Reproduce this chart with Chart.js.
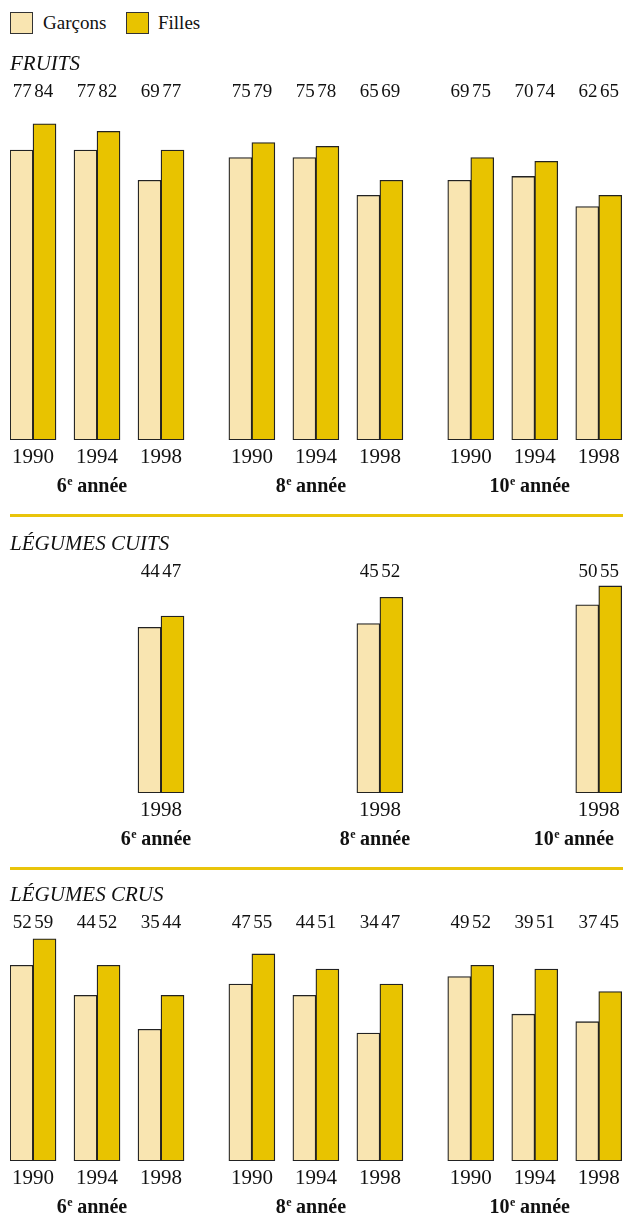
<!DOCTYPE html>
<html lang="fr">
<head>
<meta charset="utf-8">
<title>Fruits et légumes</title>
<script src="https://cdn.jsdelivr.net/npm/chart.js@4.4.1/dist/chart.umd.min.js"></script>
<style>
  html, body { margin: 0; padding: 0; background: #fff; }
  body { position: relative; width: 623px; height: 1230px; overflow: hidden;
         font-family: "Liberation Serif", "Times New Roman", serif; color: #111; }
  .key { position: absolute; top: 12px; width: 23px; height: 22px; box-sizing: border-box;
         border: 1px solid #333; }
  .key-label { position: absolute; top: 12px; line-height: 22px; font-size: 19px; }
  .panel { position: absolute; left: 0; }
  .rule { position: absolute; left: 10px; width: 613px; height: 3px; background: #e9c40a; }
</style>
</head>
<body>

<span class="key" style="left:10px; background:#f9e5b1"></span>
<span class="key-label" style="left:43px">Garçons</span>
<span class="key" style="left:126px; background:#e8c300"></span>
<span class="key-label" style="left:158px">Filles</span>

<canvas id="fruits" class="panel" width="623" height="456" style="top:49px"></canvas>
<div class="rule" style="top:514px"></div>
<canvas id="cuits" class="panel" width="623" height="329" style="top:529px"></canvas>
<div class="rule" style="top:867px"></div>
<canvas id="crus" class="panel" width="623" height="346" style="top:880px"></canvas>

<script>
const years = ["1990", "1994", "1998"];
const grades = ["6", "8", "10"];

// % par année d'étude (6e, 8e, 10e) puis par année d'enquête
const fruitsGarcons = [77, 77, 69, 75, 75, 65, 69, 70, 62];
const fruitsFilles  = [84, 82, 77, 79, 78, 69, 75, 74, 65];

const cuitsYears   = ["1998"];
const cuitsGarcons = [44, 45, 50];
const cuitsFilles  = [47, 52, 55];

const crusGarcons = [52, 44, 35, 47, 44, 34, 49, 39, 37];
const crusFilles  = [59, 52, 44, 55, 51, 47, 52, 51, 45];

const GARCONS_COLOR = "#f9e5b1";
const FILLES_COLOR = "#e8c300";
const GROUP_STEP = 3.42;       // écart entre deux années d'étude, en largeurs de paire
const PX_PER_UNIT = 3.765;     // même échelle verticale pour les trois panneaux
const TOP_BLOCK = 3 + 21 * 1.2 + 26;
const BOTTOM_PAD = 65;
const SERIF = "'Liberation Serif', 'Times New Roman', serif";

function drawGrade(ctx, num, x, y, maxRight) {
  const big = "bold 20px " + SERIF;
  const small = "bold 12px " + SERIF;
  ctx.font = big;
  const w1 = ctx.measureText(num).width;
  const w3 = ctx.measureText(" année").width;
  ctx.font = small;
  const w2 = ctx.measureText("e").width;
  const total = w1 + w2 + w3;
  const left = Math.min(x - total / 2, maxRight - total);
  ctx.textAlign = "left";
  ctx.font = big;
  ctx.fillText(num, left, y);
  ctx.font = small;
  ctx.fillText("e", left + w1 + 0.5, y - 5);
  ctx.font = big;
  ctx.fillText(" année", left + w1 + w2, y);
}

const panelLabels = {
  id: "panelLabels",
  afterDatasetsDraw(chart) {
    const { ctx, chartArea, scales } = chart;
    const base = scales.y.getPixelForValue(0);
    const m0 = chart.getDatasetMeta(0);
    const m1 = chart.getDatasetMeta(1);
    const d0 = chart.data.datasets[0].data;
    const d1 = chart.data.datasets[1].data;
    ctx.save();
    ctx.fillStyle = "#111";
    ctx.textBaseline = "middle";
    ctx.textAlign = "center";

    // valeurs au-dessus de chaque paire de barres
    ctx.font = "19px " + SERIF;
    m0.data.forEach((bar, i) => {
      ctx.fillText(String(d0[i].y), bar.x + 0.75, chartArea.top - 11);
      ctx.fillText(String(d1[i].y), m1.data[i].x - 0.75, chartArea.top - 11);
    });

    // années sous les paires
    ctx.font = "21px " + SERIF;
    d0.forEach((p) => {
      ctx.fillText(p.year, scales.x.getPixelForValue(p.x), base + 17);
    });

    // année d'étude sous chaque groupe
    grades.forEach((g) => {
      const xs = d0.filter((p) => p.grade === g).map((p) => scales.x.getPixelForValue(p.x));
      const cx = xs.reduce((a, b) => a + b, 0) / xs.length;
      drawGrade(ctx, g, cx - 5, base + 47, chartArea.right - 9);
    });
    ctx.restore();
  }
};

function points(values, panelYears) {
  return values.map((v, k) => {
    const gi = Math.floor(k / panelYears.length);
    const year = panelYears[k % panelYears.length];
    return { x: gi * GROUP_STEP + years.indexOf(year), y: v, year: year, grade: grades[gi] };
  });
}

function makePanel(id, title, panelYears, garcons, filles) {
  const canvas = document.getElementById(id);
  const yMax = (canvas.height - TOP_BLOCK - BOTTOM_PAD) / PX_PER_UNIT;
  const barStyle = { barThickness: 23, borderWidth: 1.3, borderColor: "#222", borderSkipped: false };
  return new Chart(canvas.getContext("2d"), {
    type: "bar",
    data: {
      datasets: [
        Object.assign({ label: "Garçons", data: points(garcons, panelYears), backgroundColor: GARCONS_COLOR }, barStyle),
        Object.assign({ label: "Filles", data: points(filles, panelYears), backgroundColor: FILLES_COLOR }, barStyle)
      ]
    },
    options: {
      responsive: false,
      animation: false,
      layout: { padding: { left: 10, right: 0, top: 0, bottom: BOTTOM_PAD } },
      scales: {
        x: { type: "linear", display: false, offset: false, min: -23 / 64, max: -23 / 64 + 613 / 64 },
        y: { display: false, min: 0, max: yMax }
      },
      plugins: {
        legend: { display: false },
        tooltip: { enabled: false },
        title: {
          display: true,
          text: title,
          align: "start",
          color: "#111",
          font: { family: SERIF, size: 21, style: "italic", weight: "normal" },
          padding: { top: 3, bottom: 26 }
        }
      }
    },
    plugins: [panelLabels]
  });
}

makePanel("fruits", "FRUITS", years, fruitsGarcons, fruitsFilles);
makePanel("cuits", "LÉGUMES CUITS", cuitsYears, cuitsGarcons, cuitsFilles);
makePanel("crus", "LÉGUMES CRUS", years, crusGarcons, crusFilles);
</script>
</body>
</html>
